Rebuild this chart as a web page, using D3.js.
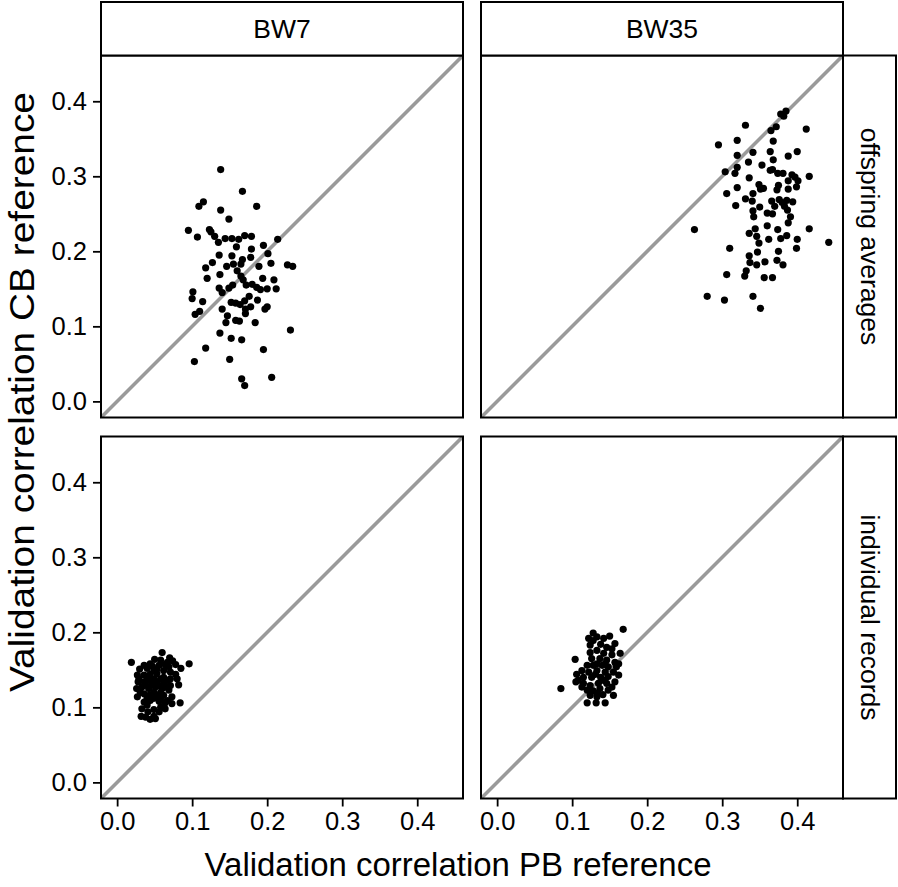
<!DOCTYPE html>
<html>
<head>
<meta charset="utf-8">
<script src="https://cdn.jsdelivr.net/npm/d3@7"></script>
<style>
  html, body { margin: 0; padding: 0; background: #fff; }
  svg { display: block; }
  text { font-family: "Liberation Sans", Arial, Helvetica, sans-serif; fill: #000; }
</style>
</head>
<body>
<script>
// ---------------- DATA ----------------
const colLabels = ["BW7", "BW35"];
const rowLabels = ["offspring averages", "individual records"];
const tickValues = [0.0, 0.1, 0.2, 0.3, 0.4];
const xTitle = "Validation correlation PB reference";
const yTitle = "Validation correlation CB reference";

// [PB reference, CB reference]
const bw7Offspring = [
  [0.138,0.309],[0.167,0.280],[0.115,0.266],[0.109,0.260],[0.138,0.255],[0.186,0.260],
  [0.149,0.243],[0.095,0.228],[0.123,0.229],[0.125,0.226],[0.130,0.220],[0.107,0.219],
  [0.144,0.217],[0.153,0.217],[0.162,0.216],[0.170,0.221],[0.179,0.220],[0.135,0.212],
  [0.159,0.206],[0.214,0.216],[0.195,0.208],[0.179,0.203],[0.201,0.197],[0.136,0.195],
  [0.153,0.194],[0.167,0.189],[0.178,0.192],[0.127,0.185],[0.118,0.178],[0.146,0.180],
  [0.155,0.183],[0.165,0.183],[0.160,0.174],[0.189,0.180],[0.205,0.184],[0.227,0.182],
  [0.234,0.180],[0.137,0.169],[0.120,0.164],[0.165,0.167],[0.168,0.162],[0.194,0.164],
  [0.209,0.162],[0.212,0.150],[0.154,0.155],[0.149,0.151],[0.136,0.151],[0.172,0.155],
  [0.180,0.156],[0.186,0.152],[0.191,0.149],[0.200,0.150],[0.140,0.145],[0.101,0.146],
  [0.100,0.137],[0.114,0.133],[0.176,0.140],[0.170,0.134],[0.152,0.132],[0.158,0.131],
  [0.164,0.129],[0.187,0.135],[0.178,0.126],[0.171,0.123],[0.200,0.126],[0.197,0.123],
  [0.140,0.123],[0.110,0.120],[0.104,0.116],[0.171,0.117],[0.147,0.114],[0.158,0.108],
  [0.163,0.107],[0.145,0.105],[0.184,0.105],[0.231,0.095],[0.137,0.091],[0.152,0.084],
  [0.166,0.082],[0.118,0.071],[0.195,0.069],[0.103,0.053],[0.150,0.056],[0.166,0.030],
  [0.170,0.021],[0.206,0.032]
];

const bw35Offspring = [
  [0.378,0.383],[0.382,0.380],[0.385,0.387],[0.331,0.368],[0.372,0.366],[0.365,0.361],
  [0.412,0.363],[0.295,0.342],[0.320,0.348],[0.368,0.347],[0.341,0.332],[0.320,0.328],
  [0.364,0.333],[0.400,0.333],[0.388,0.327],[0.335,0.319],[0.368,0.322],[0.367,0.309],
  [0.364,0.308],[0.353,0.315],[0.320,0.312],[0.317,0.304],[0.304,0.306],[0.374,0.304],
  [0.381,0.304],[0.393,0.302],[0.397,0.299],[0.401,0.294],[0.388,0.294],[0.416,0.300],
  [0.336,0.298],[0.349,0.289],[0.355,0.284],[0.351,0.283],[0.375,0.288],[0.373,0.282],
  [0.399,0.286],[0.388,0.283],[0.320,0.285],[0.306,0.277],[0.341,0.277],[0.331,0.270],
  [0.340,0.267],[0.366,0.267],[0.376,0.269],[0.380,0.265],[0.386,0.268],[0.394,0.266],
  [0.318,0.261],[0.350,0.259],[0.370,0.260],[0.383,0.260],[0.341,0.254],[0.342,0.246],
  [0.360,0.251],[0.367,0.250],[0.387,0.255],[0.391,0.246],[0.388,0.238],[0.263,0.229],
  [0.360,0.234],[0.344,0.230],[0.336,0.224],[0.374,0.229],[0.416,0.230],[0.346,0.220],
  [0.349,0.211],[0.362,0.216],[0.378,0.217],[0.386,0.221],[0.400,0.216],[0.442,0.212],
  [0.310,0.204],[0.399,0.204],[0.375,0.200],[0.347,0.199],[0.336,0.194],[0.337,0.185],
  [0.346,0.182],[0.357,0.186],[0.373,0.188],[0.381,0.182],[0.332,0.174],[0.330,0.167],
  [0.306,0.169],[0.356,0.165],[0.367,0.165],[0.280,0.140],[0.303,0.135],[0.341,0.140],
  [0.351,0.124]
];

const bw7Individual = [
  [0.019,0.160],[0.060,0.173],[0.050,0.164],[0.070,0.166],[0.074,0.162],[0.096,0.158],
  [0.085,0.152],[0.030,0.151],[0.027,0.143],[0.040,0.152],[0.047,0.155],[0.056,0.156],
  [0.064,0.157],[0.078,0.157],[0.062,0.149],[0.071,0.147],[0.078,0.144],[0.036,0.143],
  [0.044,0.144],[0.053,0.145],[0.062,0.140],[0.071,0.138],[0.082,0.130],[0.028,0.134],
  [0.026,0.125],[0.027,0.114],[0.036,0.134],[0.044,0.136],[0.053,0.134],[0.062,0.132],
  [0.071,0.129],[0.033,0.127],[0.042,0.125],[0.051,0.127],[0.060,0.125],[0.069,0.123],
  [0.036,0.118],[0.044,0.117],[0.053,0.116],[0.062,0.116],[0.073,0.114],[0.073,0.105],
  [0.084,0.106],[0.036,0.107],[0.044,0.109],[0.056,0.108],[0.064,0.106],[0.033,0.098],
  [0.041,0.094],[0.049,0.097],[0.058,0.100],[0.064,0.098],[0.032,0.088],[0.038,0.087],
  [0.049,0.088],[0.051,0.085],[0.044,0.084],[0.029,0.138],[0.031,0.120],[0.067,0.109],
  [0.058,0.120],[0.049,0.120],[0.040,0.103],[0.080,0.138],[0.067,0.160],[0.058,0.163],
  [0.044,0.158],[0.036,0.156],[0.040,0.140],[0.049,0.138],[0.058,0.138],[0.067,0.136],
  [0.038,0.130],[0.047,0.130],[0.056,0.129],[0.064,0.127],[0.040,0.112],[0.049,0.112],
  [0.058,0.112],[0.053,0.151],[0.069,0.154],[0.049,0.149],[0.056,0.094]
];

const bw35Individual = [
  [0.168,0.204],[0.128,0.199],[0.104,0.164],[0.085,0.125],[0.120,0.106],[0.132,0.106],
  [0.144,0.106],[0.133,0.119],[0.122,0.192],[0.133,0.194],[0.142,0.192],[0.150,0.195],
  [0.157,0.185],[0.138,0.184],[0.124,0.183],[0.146,0.180],[0.153,0.178],[0.124,0.173],
  [0.133,0.176],[0.142,0.172],[0.153,0.170],[0.164,0.172],[0.126,0.165],[0.137,0.165],
  [0.146,0.163],[0.157,0.160],[0.120,0.156],[0.128,0.156],[0.140,0.156],[0.148,0.154],
  [0.159,0.154],[0.113,0.149],[0.122,0.147],[0.133,0.149],[0.144,0.147],[0.155,0.147],
  [0.106,0.144],[0.108,0.136],[0.115,0.140],[0.126,0.140],[0.138,0.140],[0.148,0.141],
  [0.162,0.143],[0.115,0.132],[0.124,0.129],[0.135,0.132],[0.146,0.132],[0.157,0.134],
  [0.120,0.123],[0.128,0.122],[0.137,0.125],[0.148,0.123],[0.124,0.116],[0.141,0.117],
  [0.155,0.116],[0.105,0.134],[0.162,0.158],[0.128,0.189],[0.144,0.158],[0.133,0.158],
  [0.131,0.144],[0.142,0.136],[0.153,0.127],[0.133,0.114],[0.113,0.127]
];

const panelData = [
  [bw7Offspring, bw35Offspring],
  [bw7Individual, bw35Individual]
];
const domain = [-0.0215, 0.461];

// ---------------- LAYOUT ----------------
const W = 898, H = 887;
const panelSize = 362;
const colX = [101, 481];
const rowY = [55.5, 436.5];
const stripTop = 2;
const stripRightW = 53;
const FONT = '"Liberation Sans", Arial, Helvetica, sans-serif';

const svg = d3.select("body").append("svg")
  .attr("width", W).attr("height", H);

const x = d3.scaleLinear().domain(domain).range([0, panelSize]);
const y = d3.scaleLinear().domain(domain).range([panelSize, 0]);

const defs = svg.append("defs");
defs.append("clipPath").attr("id", "pclip")
  .append("rect").attr("width", panelSize).attr("height", panelSize);

const fmt = d3.format(".1f");

for (let r = 0; r < 2; r++) {
  for (let c = 0; c < 2; c++) {
    const g = svg.append("g").attr("transform", `translate(${colX[c]},${rowY[r]})`);
    const inner = g.append("g").attr("clip-path", "url(#pclip)");
    // diagonal 1:1 line
    inner.append("line")
      .attr("x1", x(domain[0])).attr("y1", y(domain[0]))
      .attr("x2", x(domain[1])).attr("y2", y(domain[1]))
      .attr("stroke", "#9a9a9a").attr("stroke-width", 3.6);
    inner.selectAll("circle").data(panelData[r][c]).join("circle")
      .attr("cx", d => x(d[0])).attr("cy", d => y(d[1]))
      .attr("r", 3.6).attr("fill", "#000");
    // border
    g.append("rect").attr("width", panelSize).attr("height", panelSize)
      .attr("fill", "none").attr("stroke", "#000").attr("stroke-width", 2);

    if (c === 0) {
      const ya = g.append("g").call(d3.axisLeft(y).tickValues(tickValues).tickFormat(fmt).tickSize(8).tickPadding(6));
      ya.select(".domain").remove();
      ya.selectAll("line").attr("stroke", "#000").attr("stroke-width", 1.8);
      ya.selectAll("text").attr("font-size", 25.5).attr("font-family", FONT).attr("fill", "#000");
    }
    if (r === 1) {
      const xa = g.append("g").attr("transform", `translate(0,${panelSize})`)
        .call(d3.axisBottom(x).tickValues(tickValues).tickFormat(fmt).tickSize(8).tickPadding(5));
      xa.select(".domain").remove();
      xa.selectAll("line").attr("stroke", "#000").attr("stroke-width", 1.8);
      xa.selectAll("text").attr("font-size", 25.5).attr("font-family", FONT).attr("fill", "#000");
    }
  }
}

// top strips
colLabels.forEach((lab, c) => {
  const g = svg.append("g").attr("transform", `translate(${colX[c]},${stripTop})`);
  const h = rowY[0] - stripTop;
  g.append("rect").attr("width", panelSize).attr("height", h)
    .attr("fill", "#fff").attr("stroke", "#000").attr("stroke-width", 2);
  g.append("text").attr("x", panelSize / 2).attr("y", h / 2)
    .attr("text-anchor", "middle").attr("dominant-baseline", "central")
    .attr("font-size", 26.5).text(lab);
});

// right strips
rowLabels.forEach((lab, r) => {
  const g = svg.append("g").attr("transform", `translate(${colX[1] + panelSize},${rowY[r]})`);
  g.append("rect").attr("width", stripRightW).attr("height", panelSize)
    .attr("fill", "#fff").attr("stroke", "#000").attr("stroke-width", 2);
  g.append("text")
    .attr("transform", `translate(${stripRightW / 2},${panelSize / 2}) rotate(90)`)
    .attr("text-anchor", "middle").attr("dominant-baseline", "central")
    .attr("font-size", 26.5).text(lab);
});

// axis titles
svg.append("text")
  .attr("x", 458).attr("y", 876)
  .attr("text-anchor", "middle")
  .attr("font-size", 33)
  .attr("textLength", 507).attr("lengthAdjust", "spacingAndGlyphs")
  .text(xTitle);

svg.append("text")
  .attr("transform", "translate(34,392) rotate(-90)")
  .attr("text-anchor", "middle")
  .attr("font-size", 35)
  .attr("textLength", 600).attr("lengthAdjust", "spacingAndGlyphs")
  .text(yTitle);
</script>
</body>
</html>
